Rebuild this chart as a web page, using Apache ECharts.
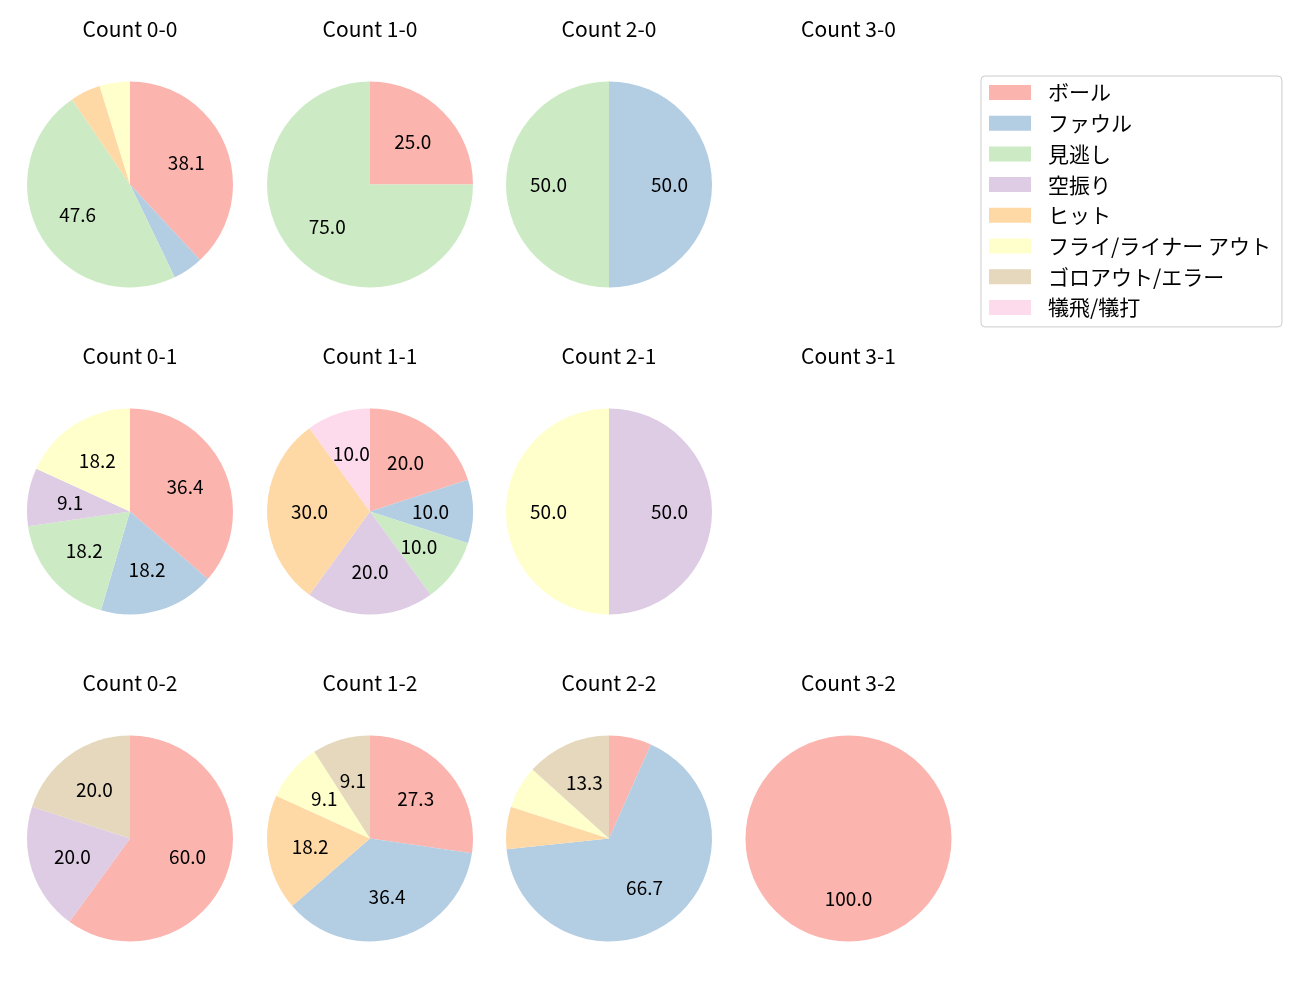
<!DOCTYPE html>
<html>
<head>
<meta charset="utf-8">
<script src="https://cdn.jsdelivr.net/npm/echarts@6/dist/echarts.min.js"></script>
<style>html,body{margin:0;padding:0;background:#fff}#c{width:1300px;height:1000px}</style>
</head>
<body>
<div id="c"></div>
<script>
const categories = ['ボール','ファウル','見逃し','空振り','ヒット','フライ/ライナー アウト','ゴロアウト/エラー','犠飛/犠打'];
const colors = ['#fbb4ae','#b3cde3','#ccebc5','#decbe4','#fed9a6','#ffffcc','#e5d8bd','#fddaec'];
const countTitles = ['Count 0-0','Count 1-0','Count 2-0','Count 3-0',
                     'Count 0-1','Count 1-1','Count 2-1','Count 3-1',
                     'Count 0-2','Count 1-2','Count 2-2','Count 3-2'];
const count00 = [8,1,10,0,1,1,0,0];
const count10 = [1,0,3,0,0,0,0,0];
const count20 = [0,1,1,0,0,0,0,0];
const count30 = [0,0,0,0,0,0,0,0];
const count01 = [4,2,2,1,0,2,0,0];
const count11 = [2,1,1,2,3,0,0,1];
const count21 = [0,0,0,1,0,1,0,0];
const count31 = [0,0,0,0,0,0,0,0];
const count02 = [3,0,0,1,0,0,1,0];
const count12 = [3,4,0,0,2,1,1,0];
const count22 = [1,10,0,0,1,1,2,0];
const count32 = [1,0,0,0,0,0,0,0];
const allCounts = [count00,count10,count20,count30,count01,count11,count21,count31,count02,count12,count22,count32];

const FONT = 'Noto Sans CJK JP';
const colX = [130, 370, 609, 848.5];
const rowY = [184.5, 511.5, 838.5];
const titleY = [29.5, 356.5, 683];
const R = 103;

const series = [];
const overlays = [];
const titles = [];
allCounts.forEach((vals, i) => {
  const cx = colX[i % 4], cy = rowY[Math.floor(i / 4)];
  titles.push({
    text: countTitles[i], left: cx, top: titleY[Math.floor(i / 4)] - 10.5, textAlign: 'center', padding: 0,
    textStyle: {fontFamily: FONT, fontSize: 21, fontWeight: 'normal', color: '#000', lineHeight: 21}
  });
  const total = vals.reduce((a, b) => a + b, 0);
  if (total === 0) return;
  const data = [];
  vals.forEach((v, k) => {
    if (v > 0) data.push({name: categories[k], value: v, itemStyle: {color: colors[k]}});
  });
  series.push({
    type: 'pie', center: [cx, cy], radius: [0, R], startAngle: 90, clockwise: true,
    silent: true, animation: false, label: {show: false}, labelLine: {show: false},
    itemStyle: {borderWidth: 0}, data: data
  });
  overlays.push({
    type: 'pie', center: [cx, cy], radius: [12, R], startAngle: 90, clockwise: true,
    silent: true, animation: false, labelLine: {show: false},
    itemStyle: {color: 'rgba(0,0,0,0)', borderWidth: 0},
    label: {
      show: true, position: 'inside', fontFamily: FONT, fontSize: 19, color: '#000',
      formatter: p => { const pct = p.value / total * 100; return pct >= 8 ? pct.toFixed(1) : ''; }
    },
    data: data.map(d => ({name: d.name, value: d.value}))
  });
});

const chart = echarts.init(document.getElementById('c'), null, {renderer: 'canvas'});
chart.setOption({
  backgroundColor: '#fff',
  animation: false,
  title: titles,
  legend: {
    data: categories, orient: 'vertical', left: 981, top: 76,
    itemWidth: 42, itemHeight: 15, itemGap: 9.7, icon: 'rect',
    padding: [6, 11, 9, 8],
    borderColor: '#cccccc', borderWidth: 1, borderRadius: 4,
    textStyle: {fontFamily: FONT, fontSize: 21, color: '#000', lineHeight: 21, padding: [0, 0, 0, 12]},
    selectedMode: false
  },
  series: series.concat(overlays)
});
</script>
</body>
</html>
